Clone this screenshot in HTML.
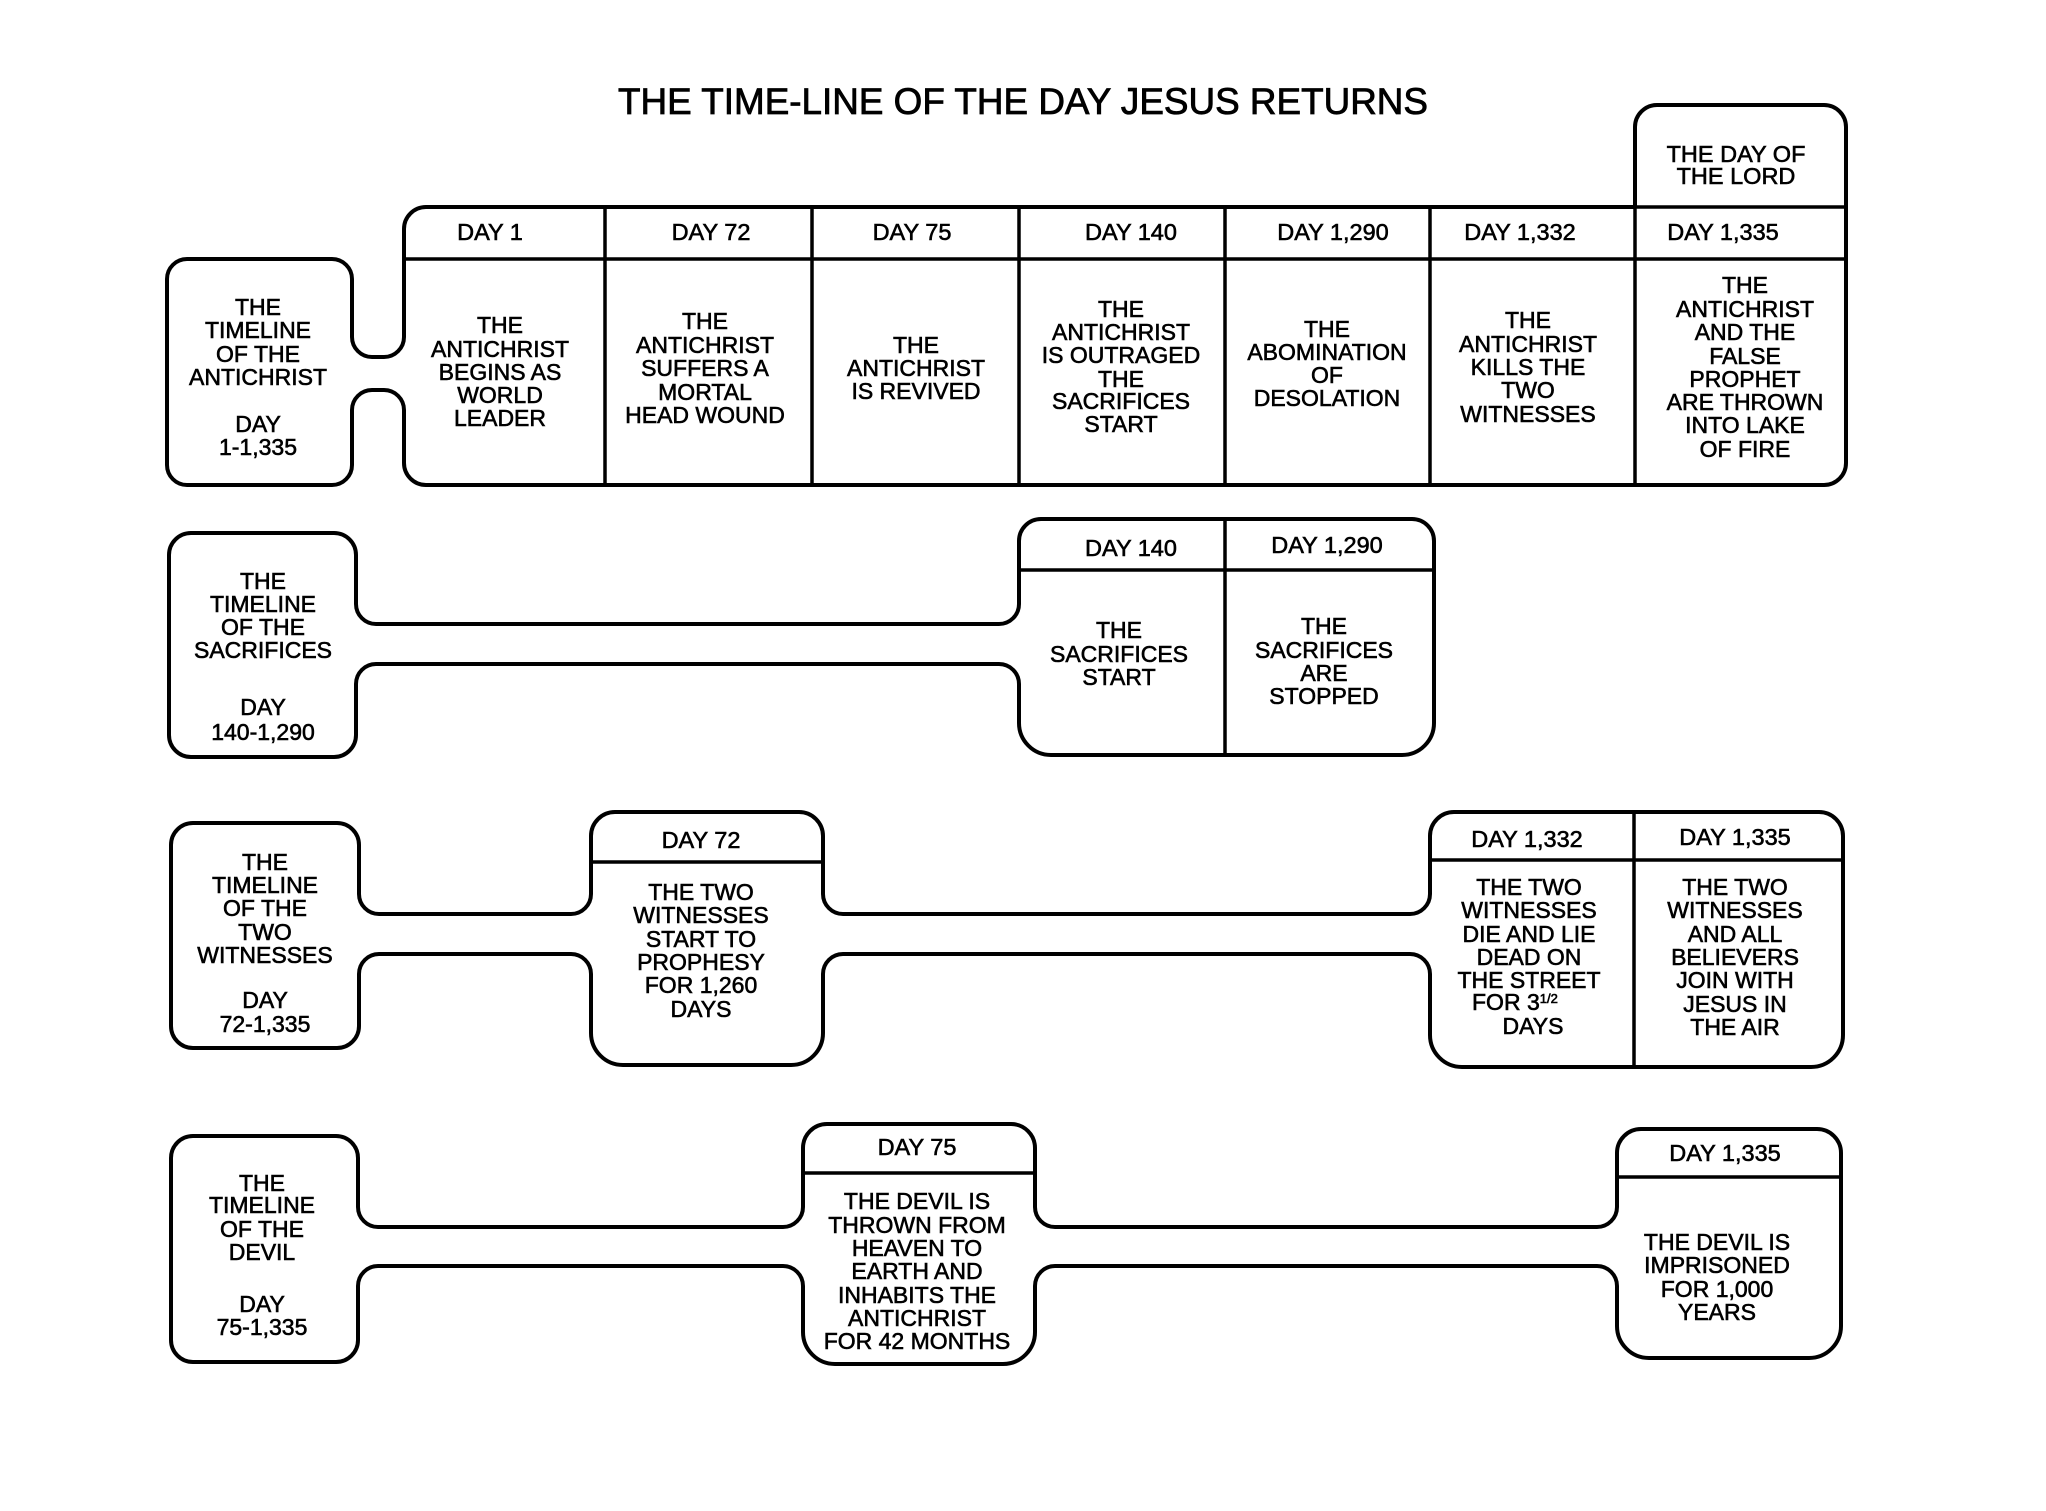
<!DOCTYPE html>
<html>
<head>
<meta charset="utf-8">
<style>
  html, body { margin:0; padding:0; background:#fff; }
  svg { display:block; }
  text { font-family: "Liberation Sans", "DejaVu Sans", sans-serif; fill:#000; stroke:#000; stroke-width:0.6; }
  .b { font-size:23px; text-anchor:middle; }
  .h { font-size:23.5px; text-anchor:middle; }
  .o { fill:#fff; stroke:#000; stroke-width:4; stroke-linejoin:round; }
  .l { fill:none; stroke:#000; stroke-width:3.5; }
</style>
</head>
<body>
<svg width="2046" height="1511" viewBox="0 0 2046 1511" xmlns="http://www.w3.org/2000/svg">
<rect x="0" y="0" width="2046" height="1511" fill="#fff"/>

<!-- Title -->
<text x="1023" y="114" style="font-size:37px;text-anchor:middle;stroke-width:0.8" textLength="810" lengthAdjust="spacingAndGlyphs">THE TIME-LINE OF THE DAY JESUS RETURNS</text>

<!-- ROW 1 outline -->
<path class="o" d="M187,259 L332,259 A20,20 0 0 1 352,279 L352,337 A20,20 0 0 0 372,357 L384,357 A20,20 0 0 0 404,337 L404,229 A22,22 0 0 1 426,207 L1635,207 L1635,127 A22,22 0 0 1 1657,105 L1824,105 A22,22 0 0 1 1846,127 L1846,463 A22,22 0 0 1 1824,485 L426,485 A22,22 0 0 1 404,463 L404,410 A20,20 0 0 0 384,390 L372,390 A20,20 0 0 0 352,410 L352,465 A20,20 0 0 1 332,485 L187,485 A20,20 0 0 1 167,465 L167,279 A20,20 0 0 1 187,259 Z"/>
<line class="l" x1="404" y1="259" x2="1846" y2="259"/>
<line class="l" x1="1635" y1="207" x2="1846" y2="207"/>
<line class="l" x1="605" y1="207" x2="605" y2="485"/>
<line class="l" x1="812" y1="207" x2="812" y2="485"/>
<line class="l" x1="1019" y1="207" x2="1019" y2="485"/>
<line class="l" x1="1225" y1="207" x2="1225" y2="485"/>
<line class="l" x1="1430" y1="207" x2="1430" y2="485"/>
<line class="l" x1="1635" y1="207" x2="1635" y2="485"/>

<!-- Row 1 text -->
<g class="b">
  <text class="b" x="258" y="315">THE</text>
  <text class="b" x="258" y="338">TIMELINE</text>
  <text class="b" x="258" y="362">OF THE</text>
  <text class="b" x="258" y="385">ANTICHRIST</text>
  <text class="b" x="258" y="432">DAY</text>
  <text class="b" x="258" y="455">1-1,335</text>
</g>
<text class="h" x="490" y="240">DAY 1</text>
<text class="h" x="711" y="240">DAY 72</text>
<text class="h" x="912" y="240">DAY 75</text>
<text class="h" x="1131" y="240">DAY 140</text>
<text class="h" x="1333" y="240">DAY 1,290</text>
<text class="h" x="1520" y="240">DAY 1,332</text>
<text class="h" x="1723" y="240">DAY 1,335</text>
<text class="h" x="1736" y="162">THE DAY OF</text>
<text class="h" x="1736" y="184">THE LORD</text>

<text class="b" x="500" y="333">THE</text>
<text class="b" x="500" y="357">ANTICHRIST</text>
<text class="b" x="500" y="380">BEGINS AS</text>
<text class="b" x="500" y="403">WORLD</text>
<text class="b" x="500" y="426">LEADER</text>

<text class="b" x="705" y="329">THE</text>
<text class="b" x="705" y="353">ANTICHRIST</text>
<text class="b" x="705" y="376">SUFFERS A</text>
<text class="b" x="705" y="400">MORTAL</text>
<text class="b" x="705" y="423">HEAD WOUND</text>

<text class="b" x="916" y="353">THE</text>
<text class="b" x="916" y="376">ANTICHRIST</text>
<text class="b" x="916" y="399">IS REVIVED</text>

<text class="b" x="1121" y="317">THE</text>
<text class="b" x="1121" y="340">ANTICHRIST</text>
<text class="b" x="1121" y="363">IS OUTRAGED</text>
<text class="b" x="1121" y="387">THE</text>
<text class="b" x="1121" y="409">SACRIFICES</text>
<text class="b" x="1121" y="432">START</text>

<text class="b" x="1327" y="337">THE</text>
<text class="b" x="1327" y="360">ABOMINATION</text>
<text class="b" x="1327" y="383">OF</text>
<text class="b" x="1327" y="406">DESOLATION</text>

<text class="b" x="1528" y="328">THE</text>
<text class="b" x="1528" y="352">ANTICHRIST</text>
<text class="b" x="1528" y="375">KILLS THE</text>
<text class="b" x="1528" y="398">TWO</text>
<text class="b" x="1528" y="422">WITNESSES</text>

<text class="b" x="1745" y="293">THE</text>
<text class="b" x="1745" y="317">ANTICHRIST</text>
<text class="b" x="1745" y="340">AND THE</text>
<text class="b" x="1745" y="364">FALSE</text>
<text class="b" x="1745" y="387">PROPHET</text>
<text class="b" x="1745" y="410">ARE THROWN</text>
<text class="b" x="1745" y="433">INTO LAKE</text>
<text class="b" x="1745" y="457">OF FIRE</text>

<!-- ROW 2 outline -->
<path class="o" d="M191,533 L334,533 A22,22 0 0 1 356,555 L356,604 A20,20 0 0 0 376,624 L999,624 A20,20 0 0 0 1019,604 L1019,541 A22,22 0 0 1 1041,519 L1412,519 A22,22 0 0 1 1434,541 L1434,723 A32,32 0 0 1 1402,755 L1051,755 A32,32 0 0 1 1019,723 L1019,684 A20,20 0 0 0 999,664 L376,664 A20,20 0 0 0 356,684 L356,735 A22,22 0 0 1 334,757 L191,757 A22,22 0 0 1 169,735 L169,555 A22,22 0 0 1 191,533 Z"/>
<line class="l" x1="1019" y1="570" x2="1434" y2="570"/>
<line class="l" x1="1225" y1="519" x2="1225" y2="755"/>

<text class="b" x="263" y="589">THE</text>
<text class="b" x="263" y="612">TIMELINE</text>
<text class="b" x="263" y="635">OF THE</text>
<text class="b" x="263" y="658">SACRIFICES</text>
<text class="b" x="263" y="715">DAY</text>
<text class="b" x="263" y="740">140-1,290</text>

<text class="h" x="1131" y="556">DAY 140</text>
<text class="h" x="1327" y="553">DAY 1,290</text>

<text class="b" x="1119" y="638">THE</text>
<text class="b" x="1119" y="662">SACRIFICES</text>
<text class="b" x="1119" y="685">START</text>

<text class="b" x="1324" y="634">THE</text>
<text class="b" x="1324" y="658">SACRIFICES</text>
<text class="b" x="1324" y="681">ARE</text>
<text class="b" x="1324" y="704">STOPPED</text>

<!-- ROW 3 outline -->
<path class="o" d="M193,823 L337,823 A22,22 0 0 1 359,845 L359,894 A20,20 0 0 0 379,914 L571,914 A20,20 0 0 0 591,894 L591,836 A24,24 0 0 1 615,812 L799,812 A24,24 0 0 1 823,836 L823,894 A20,20 0 0 0 843,914 L1410,914 A20,20 0 0 0 1430,894 L1430,836 A24,24 0 0 1 1454,812 L1819,812 A24,24 0 0 1 1843,836 L1843,1035 A32,32 0 0 1 1811,1067 L1462,1067 A32,32 0 0 1 1430,1035 L1430,974 A20,20 0 0 0 1410,954 L843,954 A20,20 0 0 0 823,974 L823,1033 A32,32 0 0 1 791,1065 L623,1065 A32,32 0 0 1 591,1033 L591,974 A20,20 0 0 0 571,954 L379,954 A20,20 0 0 0 359,974 L359,1026 A22,22 0 0 1 337,1048 L193,1048 A22,22 0 0 1 171,1026 L171,845 A22,22 0 0 1 193,823 Z"/>
<line class="l" x1="591" y1="862" x2="823" y2="862"/>
<line class="l" x1="1430" y1="860" x2="1843" y2="860"/>
<line class="l" x1="1634" y1="812" x2="1634" y2="1067"/>

<text class="b" x="265" y="870">THE</text>
<text class="b" x="265" y="893">TIMELINE</text>
<text class="b" x="265" y="916">OF THE</text>
<text class="b" x="265" y="940">TWO</text>
<text class="b" x="265" y="963">WITNESSES</text>
<text class="b" x="265" y="1008">DAY</text>
<text class="b" x="265" y="1032">72-1,335</text>

<text class="h" x="701" y="848">DAY 72</text>
<text class="b" x="701" y="900">THE TWO</text>
<text class="b" x="701" y="923">WITNESSES</text>
<text class="b" x="701" y="947">START TO</text>
<text class="b" x="701" y="970">PROPHESY</text>
<text class="b" x="701" y="993">FOR 1,260</text>
<text class="b" x="701" y="1017">DAYS</text>

<text class="h" x="1527" y="847">DAY 1,332</text>
<text class="h" x="1735" y="845">DAY 1,335</text>

<text class="b" x="1529" y="895">THE TWO</text>
<text class="b" x="1529" y="918">WITNESSES</text>
<text class="b" x="1529" y="942">DIE AND LIE</text>
<text class="b" x="1529" y="965">DEAD ON</text>
<text class="b" x="1529" y="988">THE STREET</text>
<text x="1472" y="1010" style="font-size:23px">FOR 3<tspan style="font-size:13px" dy="-7">1/2</tspan></text>
<text class="b" x="1533" y="1034">DAYS</text>

<text class="b" x="1735" y="895">THE TWO</text>
<text class="b" x="1735" y="918">WITNESSES</text>
<text class="b" x="1735" y="942">AND ALL</text>
<text class="b" x="1735" y="965">BELIEVERS</text>
<text class="b" x="1735" y="988">JOIN WITH</text>
<text class="b" x="1735" y="1012">JESUS IN</text>
<text class="b" x="1735" y="1035">THE AIR</text>

<!-- ROW 4 outline -->
<path class="o" d="M193,1136 L336,1136 A22,22 0 0 1 358,1158 L358,1207 A20,20 0 0 0 378,1227 L783,1227 A20,20 0 0 0 803,1207 L803,1148 A24,24 0 0 1 827,1124 L1011,1124 A24,24 0 0 1 1035,1148 L1035,1207 A20,20 0 0 0 1055,1227 L1597,1227 A20,20 0 0 0 1617,1207 L1617,1153 A24,24 0 0 1 1641,1129 L1817,1129 A24,24 0 0 1 1841,1153 L1841,1326 A32,32 0 0 1 1809,1358 L1649,1358 A32,32 0 0 1 1617,1326 L1617,1286 A20,20 0 0 0 1597,1266 L1055,1266 A20,20 0 0 0 1035,1286 L1035,1332 A32,32 0 0 1 1003,1364 L835,1364 A32,32 0 0 1 803,1332 L803,1286 A20,20 0 0 0 783,1266 L378,1266 A20,20 0 0 0 358,1286 L358,1340 A22,22 0 0 1 336,1362 L193,1362 A22,22 0 0 1 171,1340 L171,1158 A22,22 0 0 1 193,1136 Z"/>
<line class="l" x1="803" y1="1173" x2="1035" y2="1173"/>
<line class="l" x1="1617" y1="1177" x2="1841" y2="1177"/>

<text class="b" x="262" y="1191">THE</text>
<text class="b" x="262" y="1213">TIMELINE</text>
<text class="b" x="262" y="1237">OF THE</text>
<text class="b" x="262" y="1260">DEVIL</text>
<text class="b" x="262" y="1312">DAY</text>
<text class="b" x="262" y="1335">75-1,335</text>

<text class="h" x="917" y="1155">DAY 75</text>
<text class="b" x="917" y="1209">THE DEVIL IS</text>
<text class="b" x="917" y="1233">THROWN FROM</text>
<text class="b" x="917" y="1256">HEAVEN TO</text>
<text class="b" x="917" y="1279">EARTH AND</text>
<text class="b" x="917" y="1303">INHABITS THE</text>
<text class="b" x="917" y="1326">ANTICHRIST</text>
<text class="b" x="917" y="1349">FOR 42 MONTHS</text>

<text class="h" x="1725" y="1161">DAY 1,335</text>
<text class="b" x="1717" y="1250">THE DEVIL IS</text>
<text class="b" x="1717" y="1273">IMPRISONED</text>
<text class="b" x="1717" y="1297">FOR 1,000</text>
<text class="b" x="1717" y="1320">YEARS</text>

</svg>
</body>
</html>
